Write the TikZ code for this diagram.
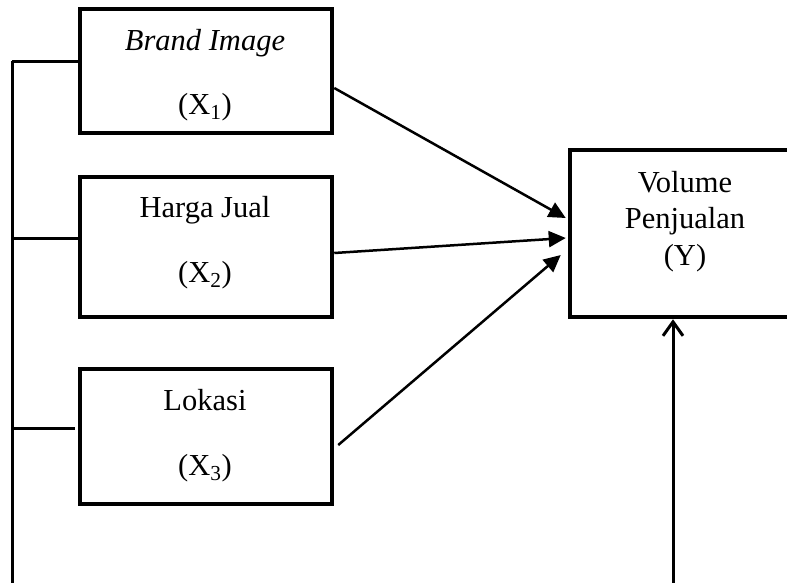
\documentclass[tikz,border=0pt]{standalone}
\usepackage{fontspec}
\setmainfont{Liberation Serif}
\usetikzlibrary{arrows.meta}
\begin{document}
\begin{tikzpicture}[x=1pt,y=-1pt,
  box/.style={draw,line width=4.5pt,minimum width=#1,inner sep=0pt},
  lbl/.style={anchor=base,inner sep=0pt,font=\fontsize{30.5}{36}\selectfont},
  link/.style={line width=2.5pt,-{Triangle[length=17pt,width=16pt]}},
  bus/.style={line width=3pt}]
\useasboundingbox (0,0) rectangle (787,582);
% boxes
\node[box=252pt,minimum height=124pt] (x1) at (206,71) {};
\node[box=252pt,minimum height=140pt] (x2) at (206,247) {};
\node[box=252pt,minimum height=135pt] (x3) at (206,436.5) {};
\node[box=228pt,minimum height=167pt] (y) at (684,233.5) {};
% labels
\node[lbl] (t1a) at (205,50) {\itshape Brand Image};
\node[lbl] (t1b) at (205,114) {(X\textsubscript{1})};
\node[lbl] (t2a) at (205,217) {Harga Jual};
\node[lbl] (t2b) at (205,282) {(X\textsubscript{2})};
\node[lbl] (t3a) at (205,410) {Lokasi};
\node[lbl] (t3b) at (205,475) {(X\textsubscript{3})};
\node[lbl] (tya) at (685,192) {Volume};
\node[lbl] (tyb) at (685,228) {Penjualan};
\node[lbl] (tyc) at (685,265) {(Y)};
% arrows into Y
\draw[link] ([yshift=-17pt]x1.east) -- ([xshift=-2pt,yshift=15.5pt]y.west);
\draw[link] ([yshift=-6pt]x2.east) -- ([xshift=-2pt,yshift=-4.5pt]y.west);
\draw[link] ([xshift=4pt,yshift=-8.5pt]x3.east) -- ([xshift=-7pt,yshift=-21.5pt]y.west);
% left bus
\coordinate (b1) at (12,61);
\coordinate (b2) at (12,238);
\coordinate (b3) at (12,428);
\coordinate (b3e) at (75,428);
\coordinate (bend) at (12,584);
\draw[bus] (b1) -- (bend);
\draw[bus] (b1) -- (x1.west |- b1);
\draw[bus] (b2) -- (x2.west |- b2);
\draw[bus] (b3) -- (b3e);
% bottom arrow into Y
\coordinate (yin) at (673,584);
\draw[line width=3pt,-{Straight Barb[length=14pt,width=20pt,line width=3pt]}] (yin) -- (y.south -| yin);
\end{tikzpicture}
\end{document}
